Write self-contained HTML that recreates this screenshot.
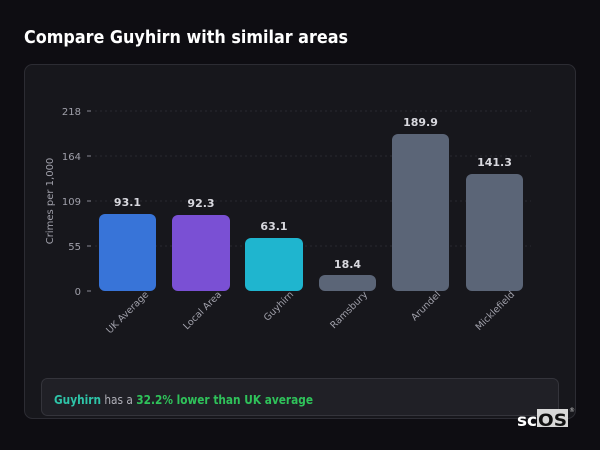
<!DOCTYPE html>
<html><head><style>
html,body{margin:0;padding:0;background:#0e0d12;}
svg{display:block}
text{font-family:"DejaVu Sans","Liberation Sans",sans-serif}
</style></head><body>
<svg width="600" height="450" viewBox="0 0 600 450" xmlns="http://www.w3.org/2000/svg">
<rect width="600" height="450" fill="#0e0d12"/>
<text x="24" y="43" font-size="18" font-weight="bold" fill="#ffffff" textLength="324" lengthAdjust="spacingAndGlyphs">Compare Guyhirn with similar areas</text>
<rect x="24.5" y="64.5" width="551" height="354" rx="8" fill="#17171c" stroke="#2c2c33"/>
<g stroke="#2a2a30" stroke-dasharray="2,3">
<line x1="95" y1="111" x2="531" y2="111"/><line x1="95" y1="156" x2="531" y2="156"/>
<line x1="95" y1="201" x2="531" y2="201"/><line x1="95" y1="246" x2="531" y2="246"/>
</g>
<g stroke="#8a8a94"><line x1="87" y1="111" x2="91" y2="111"/><line x1="87" y1="156" x2="91" y2="156"/><line x1="87" y1="201" x2="91" y2="201"/><line x1="87" y1="246" x2="91" y2="246"/><line x1="87" y1="291" x2="91" y2="291"/></g>
<g font-size="10" fill="#a0a0aa" text-anchor="end">
<text x="81" y="115">218</text><text x="81" y="160">164</text><text x="81" y="205">109</text><text x="81" y="250">55</text><text x="81" y="295">0</text>
</g>
<text transform="translate(53,201) rotate(-90)" font-size="10" fill="#a0a0aa" text-anchor="middle">Crimes per 1,000</text>
<rect x="99" y="214" width="57" height="77" rx="6" fill="#3874d8"/>
<rect x="172" y="215" width="58" height="76" rx="6" fill="#7a50d4"/>
<rect x="245" y="238" width="58" height="53" rx="6" fill="#1fb5cf"/>
<rect x="319" y="275" width="57" height="16" rx="6" fill="#5b6577"/>
<rect x="392" y="134" width="57" height="157" rx="6" fill="#5b6577"/>
<rect x="466" y="174" width="57" height="117" rx="6" fill="#5b6577"/>
<g font-size="11" font-weight="bold" fill="#d8d8de" text-anchor="middle">
<text x="127.5" y="206">93.1</text><text x="201" y="207">92.3</text><text x="274" y="230">63.1</text>
<text x="347.5" y="268">18.4</text><text x="420.5" y="126">189.9</text><text x="494.5" y="166">141.3</text>
</g>
<g font-size="9.5" fill="#a0a0aa" text-anchor="end">
<text transform="translate(149,295) rotate(-45)">UK Average</text>
<text transform="translate(222,295) rotate(-45)">Local Area</text>
<text transform="translate(294,295) rotate(-45)">Guyhirn</text>
<text transform="translate(368,295) rotate(-45)">Ramsbury</text>
<text transform="translate(441,295) rotate(-45)">Arundel</text>
<text transform="translate(515,295) rotate(-45)">Micklefield</text>
</g>
<rect x="41.5" y="378.5" width="517" height="37" rx="6" fill="#202026" stroke="#34343b"/>
<text x="54" y="404" font-size="12" fill="#b0b0b8" textLength="259" lengthAdjust="spacingAndGlyphs"><tspan font-weight="bold" fill="#2ec4a8">Guyhirn</tspan> has a <tspan font-weight="bold" fill="#2fc25a">32.2% lower than UK average</tspan></text>
<text x="517" y="426" font-size="17" font-weight="bold" fill="#ffffff" font-family="Liberation Sans,sans-serif" textLength="20" lengthAdjust="spacingAndGlyphs">sc</text>
<rect x="537" y="409" width="31" height="18" fill="#d8d8d8"/>
<text x="538" y="426" font-size="17" font-weight="bold" fill="#111" font-family="Liberation Sans,sans-serif" textLength="29" lengthAdjust="spacingAndGlyphs">OS</text>
<text x="569" y="412" font-size="6" fill="#ccc">®</text>
</svg>
</body></html>
